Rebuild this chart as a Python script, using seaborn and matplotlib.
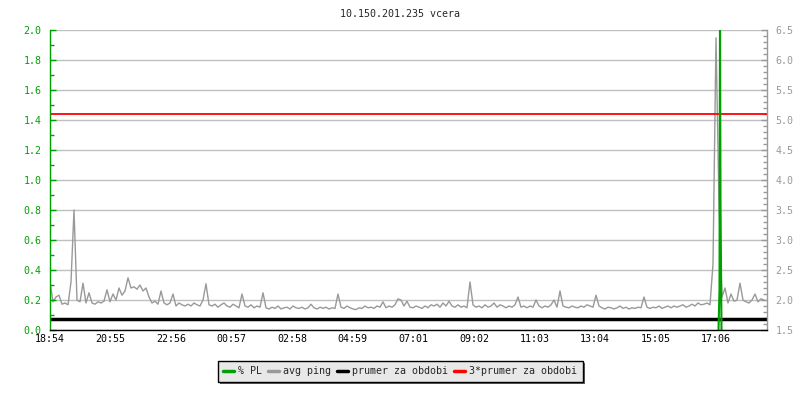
import numpy as np
import pandas as pd
import matplotlib
matplotlib.use("Agg")
import matplotlib.pyplot as plt
from matplotlib.ticker import MultipleLocator, FormatStrFormatter
from matplotlib.lines import Line2D
import seaborn as sns

# ---------------- data ----------------
title = "10.150.201.235 vcera"
x_tick_labels = ["18:54", "20:55", "22:56", "00:57", "02:58", "04:59",
                 "07:01", "09:02", "11:03", "13:04", "15:05", "17:06"]
series_names = ["% PL", "avg ping", "prumer za obdobi", "3*prumer za obdobi"]

# avg ping (right axis, ms), one sample every 6 minutes from 18:54
ping_step_min = 6
avg_ping = [
    2.30, 1.97, 2.05, 2.08, 1.93, 1.95, 1.92, 2.30, 3.50, 2.00,
    1.97, 2.28, 1.95, 2.12, 1.95, 1.93, 1.97, 1.95, 1.98, 2.17,
    1.97, 2.10, 2.00, 2.20, 2.08, 2.15, 2.37, 2.20, 2.22, 2.18,
    2.25, 2.15, 2.20, 2.05, 1.95, 1.98, 1.93, 2.15, 1.95, 1.92,
    1.95, 2.10, 1.90, 1.95, 1.92, 1.90, 1.93, 1.90, 1.95, 1.92,
    1.90, 2.00, 2.27, 1.92, 1.90, 1.93, 1.88, 1.92, 1.95, 1.90,
    1.88, 1.93, 1.90, 1.87, 2.10, 1.90, 1.88, 1.92, 1.87, 1.90,
    1.88, 2.12, 1.87, 1.85, 1.88, 1.86, 1.90, 1.85, 1.87, 1.88,
    1.85, 1.90, 1.87, 1.86, 1.88, 1.85, 1.87, 1.93, 1.87, 1.85,
    1.88, 1.86, 1.88, 1.85, 1.87, 1.86, 2.10, 1.88, 1.86, 1.90,
    1.87, 1.85, 1.84, 1.87, 1.86, 1.90, 1.87, 1.88, 1.86, 1.90,
    1.88, 1.97, 1.87, 1.90, 1.88, 1.92, 2.02, 2.00, 1.90, 1.98,
    1.88, 1.87, 1.90, 1.88, 1.86, 1.90, 1.87, 1.92, 1.90, 1.93,
    1.88, 1.95, 1.90, 1.98, 1.90, 1.88, 1.92, 1.88, 1.90, 1.87,
    2.30, 1.92, 1.88, 1.90, 1.87, 1.92, 1.88, 1.90, 1.95, 1.88,
    1.92, 1.90, 1.87, 1.90, 1.88, 1.92, 2.05, 1.88, 1.90, 1.87,
    1.90, 1.88, 2.00, 1.90, 1.87, 1.90, 1.88, 1.92, 2.00, 1.88,
    2.15, 1.90, 1.88, 1.87, 1.90, 1.88, 1.87, 1.90, 1.88, 1.92,
    1.90, 1.88, 2.08, 1.90, 1.87, 1.85, 1.88, 1.87, 1.85, 1.87,
    1.90, 1.86, 1.88, 1.85, 1.87, 1.86, 1.88, 1.87, 2.05, 1.88,
    1.86, 1.88, 1.87, 1.90, 1.86, 1.88, 1.90, 1.87, 1.90, 1.88,
    1.90, 1.92, 1.88, 1.90, 1.93, 1.90, 1.95, 1.92, 1.93, 1.95,
    1.92, 2.60, 6.37, 3.60, 2.05, 2.20, 1.95, 2.10, 1.98, 2.00,
    2.28, 2.00, 1.97, 1.95, 2.00, 2.10, 1.97, 2.02, 2.00,
]

# packet loss (left axis, %), minutes after 18:54 around the outage
pl_minutes = [1337, 1339, 1340, 1341, 1343]
pl_values = [0.0, 0.27, 2.10, 0.85, 0.0]

prumer = 1.69          # right axis
trojnasobek = 5.10     # right axis

# ---------------- derived ----------------
def minutes_from_start(label, start="18:54"):
    h, m = map(int, label.split(":"))
    sh, sm = map(int, start.split(":"))
    return ((h * 60 + m) - (sh * 60 + sm)) % 1440

x_ticks = [minutes_from_start(l) for l in x_tick_labels]
ping_df = pd.DataFrame({"t": np.arange(len(avg_ping)) * ping_step_min,
                        "ping": avg_ping})
pl_df = pd.DataFrame({"t": pl_minutes, "pl": pl_values})

GREEN = "#00a000"
GRAY = "#999999"
GRID = "#c0c0c0"
RED = "#ff0000"

sns.set_style("white")
plt.rcParams["font.family"] = ["DejaVu Sans Mono"]
plt.rcParams["font.size"] = 7.2

fig = plt.figure(figsize=(8, 4), dpi=100)
ax = fig.add_axes([50 / 800, 1 - 330 / 400, 717 / 800, 300 / 400])
ax2 = ax.twinx()
ax.set_zorder(ax2.get_zorder() + 1)
ax.patch.set_visible(False)

# right axis series
ax2.grid(axis="y", color=GRID, linewidth=1)
ax2.set_axisbelow(True)
sns.lineplot(data=ping_df, x="t", y="ping", ax=ax2, color=GRAY,
             linewidth=1, estimator=None, sort=False)
ax2.axhline(prumer, color="black", linewidth=2.5)
ax2.axhline(trojnasobek, color=RED, linewidth=1.3)

# left axis series
sns.lineplot(data=pl_df, x="t", y="pl", ax=ax, color=GREEN,
             linewidth=1.5, estimator=None, sort=False)

xmax = 1434
ax.set_xlim(0, xmax)
ax.set_ylim(0, 2.0)
ax2.set_ylim(1.5, 6.5)

ax.set_xticks(x_ticks)
ax.set_xticklabels(x_tick_labels)
ax.yaxis.set_major_locator(MultipleLocator(0.2))
ax.yaxis.set_minor_locator(MultipleLocator(0.1))
ax.yaxis.set_major_formatter(FormatStrFormatter("%.1f"))
ax2.yaxis.set_major_locator(MultipleLocator(0.5))
ax2.yaxis.set_minor_locator(MultipleLocator(0.1))
ax2.yaxis.set_major_formatter(FormatStrFormatter("%.1f"))

ax.set_xlabel("")
ax.set_ylabel("")
ax2.set_xlabel("")
ax2.set_ylabel("")

for s in ["top", "right"]:
    ax.spines[s].set_visible(False)
for s in ["top", "left", "bottom"]:
    ax2.spines[s].set_visible(False)
ax.spines["left"].set_color(GREEN)
ax.spines["left"].set_linewidth(1)
ax.spines["bottom"].set_color("black")
ax.spines["bottom"].set_linewidth(1)
ax2.spines["right"].set_color(GRAY)
ax2.spines["right"].set_linewidth(1)

ax.tick_params(axis="y", which="major", direction="in", length=4, width=1,
               color=GREEN, labelcolor=GREEN, pad=6, labelsize=7.2)
ax.tick_params(axis="y", which="minor", direction="in", length=3, width=1,
               color=GREEN)
ax.tick_params(axis="x", which="major", direction="in", length=4, width=1,
               color="black", labelcolor="black", pad=3, labelsize=7.2)
ax2.tick_params(axis="y", which="major", direction="in", length=4, width=1,
                color=GRAY, labelcolor=GRAY, pad=6, labelsize=7.2)
ax2.tick_params(axis="y", which="minor", direction="in", length=3, width=1,
                color=GRAY)

fig.text(0.5, 1 - 14 / 400, title, ha="center", va="center", fontsize=7.2)

handles = [Line2D([], [], color=c, linewidth=2.5)
           for c in [GREEN, GRAY, "black", RED]]
leg = fig.legend(handles, series_names, loc="center",
                 bbox_to_anchor=(400 / 800, 1 - 371 / 400), ncol=4,
                 frameon=True, fancybox=False,
                 shadow={"facecolor": "#606060", "edgecolor": "none", "alpha": 1.0},
                 handlelength=1.1, handletextpad=0.4, columnspacing=0.6,
                 borderpad=0.55, fontsize=7.2)
leg.get_frame().set_facecolor("#e8e8e8")
leg.get_frame().set_edgecolor("black")
leg.get_frame().set_linewidth(1)
leg.get_frame().set_alpha(1)

fig.savefig("out.png", dpi=100, facecolor="white")
